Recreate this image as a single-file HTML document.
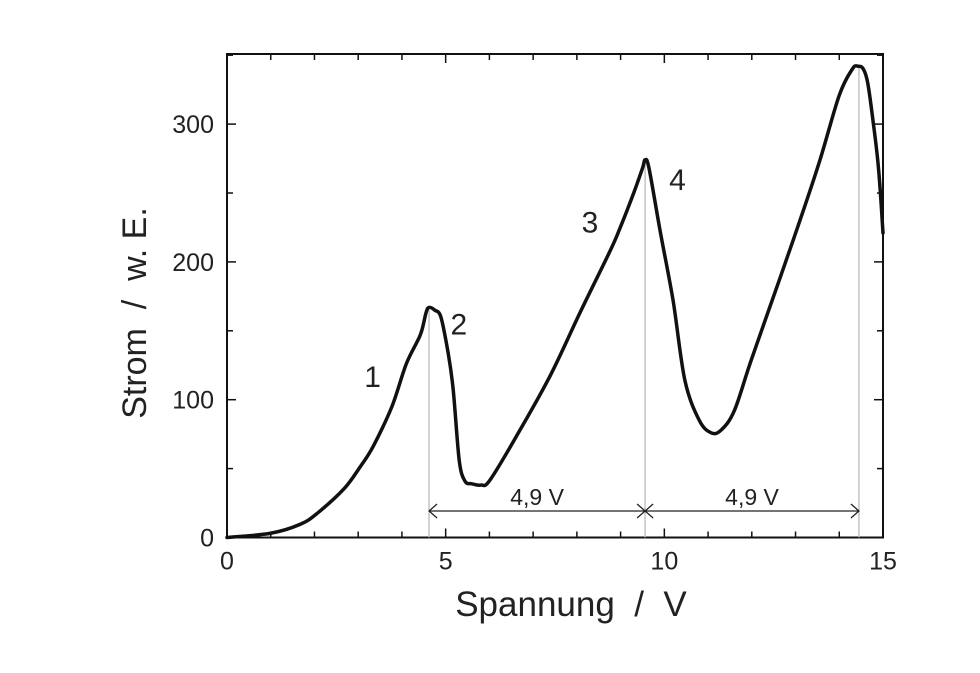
<!DOCTYPE html>
<html><head><meta charset="utf-8"><style>
body{margin:0;background:#fff}
svg text{font-family:"Liberation Sans",sans-serif;fill:#222}
</style></head><body>
<svg width="980" height="668" viewBox="0 0 980 668">
<g id="axes"></g>
<g id="marks"></g>
<text x="571" y="616" font-size="35" text-anchor="middle" xml:space="preserve">Spannung  /  V</text>
<text transform="translate(146,313) rotate(-90)" font-size="34" text-anchor="middle" xml:space="preserve">Strom  /  w. E.</text>
</svg>
<script>
const xTicks=[0,5,10,15];
const yTicks=[0,100,200,300];
const voltage=[0,0.98,1.67,2.08,2.68,3.04,3.34,3.77,4.1,4.42,4.55,4.62,4.75,4.89,5.05,5.17,5.31,5.44,5.6,5.81,6.02,6.7,7.4,8.07,8.76,8.98,9.3,9.5,9.56,9.65,9.9,10.2,10.47,10.8,11.07,11.3,11.6,11.98,12.63,13.1,13.56,14.0,14.3,14.43,14.55,14.65,14.77,14.9,15];
const current=[0,3,9.5,18,35.5,51,66,95,126,147,163,167,165,160,135,108,56,41,39,38,42,78,118,163,208,224,250,268,274,268,223,172,114,85,76,78,92,128,187,230,274,321,340,342,340,330,303,267,221];
const peaks=[4.62,9.56,14.45];
const labels=["1","2","3","4"];
const labelX=[3.33,5.3,8.3,10.3];
const labelY=[110,148,222,253];
const spacing=["4,9 V","4,9 V"];
const X0=227,X1=883,Y0=537.5,Y1=54;
const xs=v=>X0+(v/15)*(X1-X0);
const ys=v=>Y0-v*1.378;
const NS="http://www.w3.org/2000/svg";
function mk(t,a,p){const e=document.createElementNS(NS,t);for(const k in a)e.setAttribute(k,a[k]);p.appendChild(e);return e;}
const ax=document.getElementById('axes'),mg=document.getElementById('marks');
const frame=mk('rect',{x:X0,y:Y1,width:X1-X0,height:Y0-Y1,fill:'none',stroke:'#111','stroke-width':2},ax);


for(let v=0;v<=15;v++){const L=v%5===0?9:6;
mk('line',{x1:xs(v),x2:xs(v),y1:Y0,y2:Y0-L,stroke:'#111','stroke-width':1.5},ax);
mk('line',{x1:xs(v),x2:xs(v),y1:Y1,y2:Y1+L,stroke:'#111','stroke-width':1.5},ax);}
for(let v=0;v<=350;v+=50){const L=v%100===0?9:6;
mk('line',{x1:X0,x2:X0+L,y1:ys(v),y2:ys(v),stroke:'#111','stroke-width':1.5},ax);
mk('line',{x1:X1,x2:X1-L,y1:ys(v),y2:ys(v),stroke:'#111','stroke-width':1.5},ax);}
xTicks.forEach(v=>{const t=mk('text',{x:xs(v),y:Y0+32,'font-size':25,'text-anchor':'middle'},ax);t.textContent=v;

});
yTicks.forEach(v=>{const t=mk('text',{x:X0-13,y:ys(v)+9,'font-size':25,'text-anchor':'end'},ax);t.textContent=v;

});
peaks.forEach((p,i)=>{let j=0,best=1e9;voltage.forEach((v,k)=>{if(Math.abs(v-p)<best){best=Math.abs(v-p);j=k;}});
const l=mk('line',{x1:xs(p),x2:xs(p),y1:Y0,y2:ys(current[j]),stroke:'#bbb','stroke-width':1.3},mg);

});
const P=voltage.map((v,i)=>[xs(v),ys(current[i])]);
let d='M'+P[0][0]+' '+P[0][1];
for(let i=0;i<P.length-1;i++){const p0=P[Math.max(0,i-1)],p1=P[i],p2=P[i+1],p3=P[Math.min(P.length-1,i+2)];
const c1=[p1[0]+(p2[0]-p0[0])/6,p1[1]+(p2[1]-p0[1])/6],c2=[p2[0]-(p3[0]-p1[0])/6,p2[1]-(p3[1]-p1[1])/6];
d+=` C${c1[0].toFixed(1)} ${c1[1].toFixed(1)} ${c2[0].toFixed(1)} ${c2[1].toFixed(1)} ${p2[0].toFixed(1)} ${p2[1].toFixed(1)}`;}
const c=mk('path',{d:d,fill:'none',stroke:'#111','stroke-width':3.5,'stroke-linejoin':'round','stroke-linecap':'round'},mg);


const ay=511;
for(let i=0;i<2;i++){const a=xs(peaks[i]),b=xs(peaks[i+1]);
const g=mk('g',{stroke:'#222','stroke-width':1.3,fill:'none'},mg);


mk('line',{x1:a,x2:b,y1:ay,y2:ay},g);
mk('path',{d:`M${a+8} ${ay-7} L${a} ${ay} L${a+8} ${ay+7}`},g);
mk('path',{d:`M${b-8} ${ay-7} L${b} ${ay} L${b-8} ${ay+7}`},g);
const t=mk('text',{x:(a+b)/2,y:ay-6,'font-size':23,'text-anchor':'middle'},mg);t.textContent=spacing[i];

}
labels.forEach((s,i)=>{const t=mk('text',{x:xs(labelX[i]),y:ys(labelY[i])+1,'font-size':30,'text-anchor':'middle'},mg);t.textContent=s;

});
</script>
</body></html>
